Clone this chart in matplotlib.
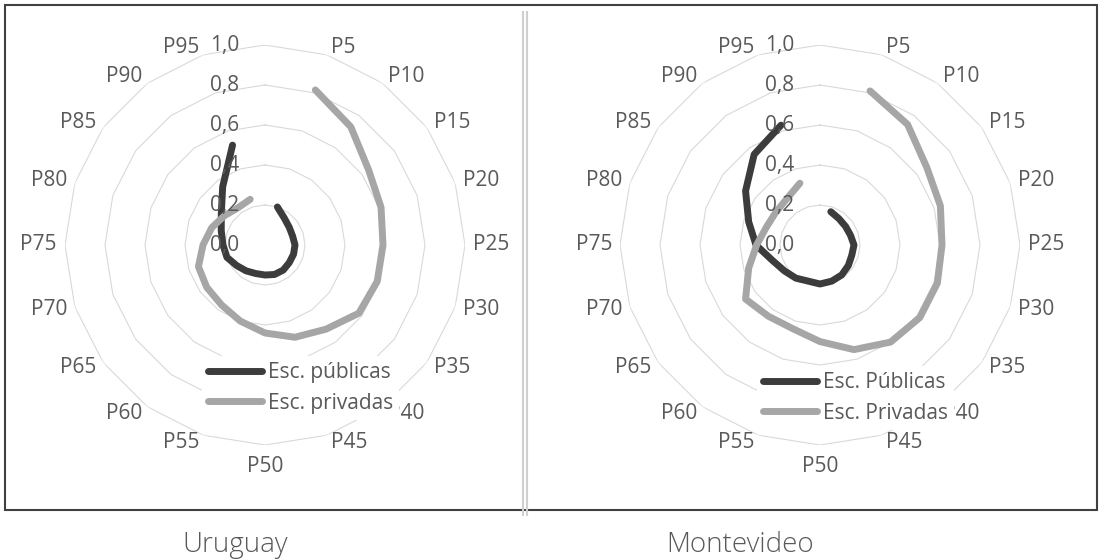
import numpy as np
import matplotlib.pyplot as plt
import matplotlib.transforms as mtransforms
from matplotlib.patches import Rectangle
from matplotlib.lines import Line2D

plt.rcParams['font.family'] = ['Open Sans', 'DejaVu Sans']

# 20 spokes, the first one (top) has no label
categories = [''] + ['P%d' % p for p in range(5, 100, 5)]
r_ticks = [0.0, 0.2, 0.4, 0.6, 0.8, 1.0]
r_labels = ['0,0', '0,2', '0,4', '0,6', '0,8', '1,0']

# values for P5 ... P95
uru_pub = [0.20, 0.165, 0.15, 0.145, 0.15, 0.15, 0.15, 0.155, 0.155, 0.15,
           0.15, 0.16, 0.175, 0.20, 0.21, 0.23, 0.27, 0.36, 0.525]
uru_priv = [0.815, 0.73, 0.64, 0.61, 0.59, 0.59, 0.58, 0.52, 0.485, 0.44,
            0.40, 0.37, 0.36, 0.35, 0.31, 0.28, 0.25, 0.23, 0.24]
mvd_pub = [0.175, 0.162, 0.158, 0.16, 0.17, 0.167, 0.175, 0.185, 0.19, 0.195,
           0.19, 0.205, 0.22, 0.25, 0.32, 0.375, 0.46, 0.56, 0.63]
mvd_priv = [0.81, 0.745, 0.66, 0.633, 0.61, 0.617, 0.617, 0.60, 0.55, 0.483,
            0.44, 0.44, 0.46, 0.375, 0.317, 0.283, 0.275, 0.284, 0.325]

W, H = 1102, 560
fig = plt.figure(figsize=(W / 100, H / 100), dpi=100)

n = len(categories)
theta = np.arange(n) * 2 * np.pi / n
theta_ring = np.append(theta, 0)

DARK = '#3c3c3c'
GRAY = '#a6a6a6'
TXT = '#595959'


def offset(ax, dx, dy):
    # shift in pixels (dpi 100)
    return ax.transData + mtransforms.ScaledTranslation(dx / 100, dy / 100, fig.dpi_scale_trans)


def radar(cx, pub, priv, names, leg_xy):
    ax = fig.add_axes([(cx - 200) / W, (H - 445) / H, 400 / W, 400 / H],
                      projection='polar')
    ax.set_theta_zero_location('N')
    ax.set_theta_direction(-1)
    ax.grid(False)
    ax.spines['polar'].set_visible(False)
    ax.patch.set_visible(False)
    for r in r_ticks[1:]:
        ax.plot(theta_ring, [r] * len(theta_ring), color='#d9d9d9', lw=0.8, zorder=1)
    ax.plot(theta[1:], pub, color=DARK, lw=5, solid_capstyle='round',
            solid_joinstyle='round', zorder=3)
    ax.plot(theta[1:], priv, color=GRAY, lw=5, solid_capstyle='round',
            solid_joinstyle='round', zorder=4)
    ax.set_ylim(0, 1)
    ax.set_xticks([])
    ax.set_yticks([])

    # category labels, excel style: beside the outer ring
    for th, lab in zip(theta, categories):
        s, c = np.sin(th), np.cos(th)
        if abs(s) < 0.1:
            ax.text(th, 1.0, lab, transform=offset(ax, 0, -11 if c < 0 else 11),
                    ha='center', va='top' if c < 0 else 'bottom',
                    fontsize=15, color=TXT)
        else:
            ax.text(th, 1.0, lab, transform=offset(ax, np.sign(s) * (2 + 6 * abs(s)), 8 * c),
                    ha='left' if s > 0 else 'right', va='center',
                    fontsize=15, color=TXT)

    for r, lab in zip(r_ticks, r_labels):
        ax.text(0, r, lab, transform=offset(ax, -26, 0), ha='right', va='center',
                fontsize=15, color=TXT, zorder=6)

    handles = [Line2D([], [], color=DARK, lw=5, solid_capstyle='round'),
               Line2D([], [], color=GRAY, lw=5, solid_capstyle='round')]
    fig.legend(handles, names, loc='center left',
               bbox_to_anchor=(leg_xy[0] / W, 1 - leg_xy[1] / H),
               frameon=True, facecolor='white', edgecolor='none', framealpha=1,
               fancybox=False, fontsize=15, labelcolor=TXT, handlelength=2.6,
               handletextpad=0.25, labelspacing=0.45, borderpad=0.3, borderaxespad=0)
    return ax


radar(265, uru_pub, uru_priv, ['Esc. públicas', 'Esc. privadas'], (202, 388))
radar(820, mvd_pub, mvd_priv, ['Esc. Públicas', 'Esc. Privadas'], (757, 398))

fig.add_artist(Rectangle((5 / W, 1 - 510 / H), 1092 / W, 505 / H,
                         transform=fig.transFigure, fill=False,
                         edgecolor='#404040', lw=1.5))
for x in (522.5, 527):
    fig.add_artist(Line2D([x / W, x / W], [1 - 12 / H, 1 - 515 / H],
                          transform=fig.transFigure, color='#cfcfcf', lw=1.5))

fig.text(235 / W, 1 - 545 / H, 'Uruguay', ha='center', va='center',
         fontsize=20, color=TXT, fontweight='light')
fig.text(740 / W, 1 - 545 / H, 'Montevideo', ha='center', va='center',
         fontsize=20, color=TXT, fontweight='light')

fig.savefig('out.png', dpi=100, facecolor='white')
